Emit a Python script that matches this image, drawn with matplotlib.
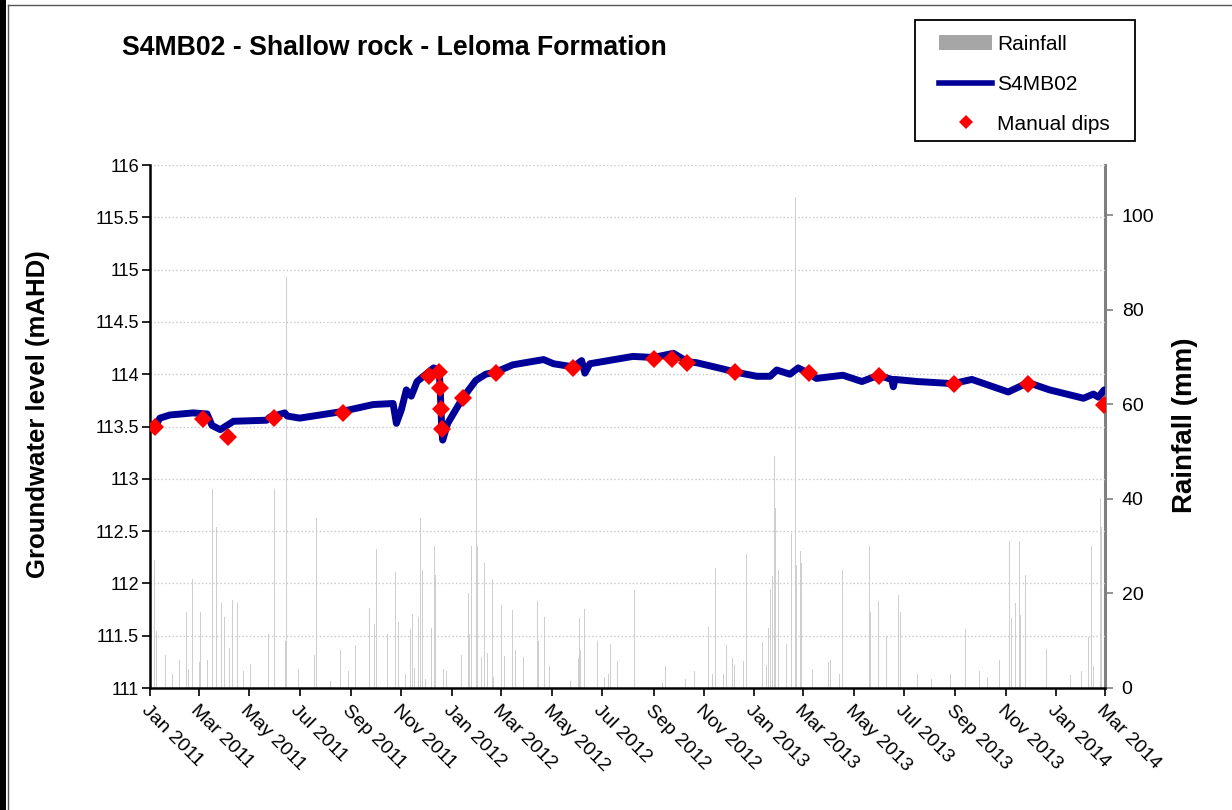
import numpy as np
import pandas as pd
import matplotlib
matplotlib.use("Agg")
import matplotlib.pyplot as plt
import matplotlib.dates as mdates
from matplotlib.patches import Patch, Rectangle
from matplotlib.lines import Line2D

plt.rcParams['font.family'] = ['Liberation Sans', 'DejaVu Sans']

# daily rainfall (mm), only the days with visible bars
rain_dates = [
    "2011-01-02", "2011-01-06", "2011-01-07", "2011-01-09", "2011-01-20", "2011-01-28",
    "2011-02-06", "2011-02-14", "2011-02-16", "2011-02-21", "2011-03-02", "2011-03-03",
    "2011-03-11", "2011-03-17", "2011-03-22", "2011-03-29", "2011-04-01", "2011-04-07",
    "2011-04-11", "2011-04-17", "2011-04-24", "2011-05-03", "2011-05-24", "2011-05-31",
    "2011-06-01", "2011-06-14", "2011-06-15", "2011-06-29", "2011-07-19", "2011-07-21",
    "2011-08-07", "2011-08-19", "2011-08-20", "2011-08-29", "2011-09-07", "2011-09-24",
    "2011-09-30", "2011-10-02", "2011-10-15", "2011-10-25", "2011-10-29", "2011-11-06",
    "2011-11-12", "2011-11-15", "2011-11-17", "2011-11-22", "2011-11-24", "2011-11-26",
    "2011-11-30", "2011-12-07", "2011-12-11", "2011-12-12", "2011-12-22", "2011-12-25",
    "2012-01-13", "2012-01-21", "2012-01-23", "2012-01-25", "2012-01-31", "2012-02-01",
    "2012-02-06", "2012-02-09", "2012-02-10", "2012-02-13", "2012-02-19", "2012-02-21",
    "2012-03-01", "2012-03-05", "2012-03-15", "2012-03-18", "2012-03-28", "2012-04-07",
    "2012-04-14", "2012-04-15", "2012-04-22", "2012-04-28", "2012-05-23", "2012-06-02",
    "2012-06-04", "2012-06-05", "2012-06-10", "2012-06-25", "2012-07-04", "2012-07-08",
    "2012-07-11", "2012-07-20", "2012-08-09", "2012-09-12", "2012-09-15", "2012-10-10",
    "2012-10-20", "2012-11-06", "2012-11-11", "2012-11-15", "2012-11-25", "2012-11-28",
    "2012-12-06", "2012-12-08", "2012-12-19", "2012-12-23", "2013-01-11", "2013-01-16",
    "2013-01-18", "2013-01-21", "2013-01-23", "2013-01-25", "2013-01-26", "2013-01-30",
    "2013-02-09", "2013-02-15", "2013-02-20", "2013-02-21", "2013-02-26", "2013-02-27",
    "2013-03-12", "2013-04-01", "2013-04-03", "2013-04-14", "2013-04-17", "2013-05-20",
    "2013-05-21", "2013-05-31", "2013-06-10", "2013-06-24", "2013-06-27", "2013-07-17",
    "2013-08-03", "2013-08-26", "2013-09-13", "2013-09-30", "2013-10-10", "2013-10-25",
    "2013-11-06", "2013-11-08", "2013-11-13", "2013-11-18", "2013-11-19", "2013-11-25",
    "2013-12-20", "2014-01-18", "2014-02-01", "2014-02-09", "2014-02-13", "2014-02-15",
    "2014-02-23", "2014-02-25",
]
rain_mm = [
    5, 20, 27, 12, 7, 3,
    6, 16, 4, 23, 5.5, 16,
    6, 42, 34, 18, 15, 8.5,
    18.6, 18, 3.6, 5, 11.4, 42,
    5, 10, 87, 4, 7, 36,
    1.5, 8, 23, 3.6, 9, 17,
    13.6, 29.5, 11.4, 24.5, 14, 3,
    12.4, 15.6, 4.3, 15, 36, 25,
    2, 12.6, 30, 24, 4, 3.6,
    7, 20, 11.4, 30, 67, 30,
    6.6, 26.5, 20, 7.5, 23, 2.4,
    17.5, 6.8, 16.5, 8, 6.6, 10,
    18.5, 10, 15, 4.6, 1.5, 6.3,
    14.7, 8, 16.7, 10, 2.4, 3,
    9.3, 5.7, 20.7, 1, 4.6, 2,
    3.5, 13, 3, 25.4, 3, 9,
    6.3, 4.8, 5.7, 28.3, 9.8, 4.8,
    12.6, 21, 23.7, 49, 38, 25,
    9.2, 32.7, 103.8, 26, 29, 26.5,
    4, 5.6, 6, 3, 25, 30,
    16, 18.5, 11, 19.7, 16, 3,
    2, 3, 12.4, 3.7, 2.4, 5.9,
    31, 14.8, 18, 31, 15.5, 24,
    8.2, 2.8, 3.7, 10.8, 30, 4.6,
    40, 34,
]

# logger groundwater level (mAHD)
gw_dates = [
    "2011-01-07", "2011-01-13", "2011-01-25", "2011-02-22", "2011-03-11", "2011-03-17",
    "2011-03-27", "2011-04-12", "2011-05-22", "2011-05-26", "2011-06-13", "2011-06-16",
    "2011-07-01", "2011-08-19", "2011-09-28", "2011-10-22", "2011-10-26", "2011-11-01",
    "2011-11-07", "2011-11-13", "2011-11-20", "2011-12-10", "2011-12-16", "2011-12-17",
    "2011-12-18", "2011-12-19", "2011-12-20", "2011-12-21", "2011-12-27", "2012-01-14",
    "2012-01-30", "2012-02-11", "2012-02-23", "2012-03-15", "2012-04-21", "2012-05-03",
    "2012-05-27", "2012-06-06", "2012-06-10", "2012-06-16", "2012-08-07", "2012-09-01",
    "2012-09-25", "2012-10-12", "2012-10-23", "2012-11-24", "2012-12-09", "2013-01-04",
    "2013-01-20", "2013-01-28", "2013-02-13", "2013-02-23", "2013-03-07", "2013-03-17",
    "2013-04-18", "2013-05-11", "2013-05-31", "2013-06-16", "2013-06-18", "2013-06-20",
    "2013-07-17", "2013-08-29", "2013-09-21", "2013-11-04", "2013-11-28", "2013-12-24",
    "2014-02-03", "2014-02-15", "2014-02-21", "2014-02-28",
]
gw_level = [
    113.50, 113.58, 113.61, 113.63, 113.62, 113.51,
    113.47, 113.55, 113.56, 113.59, 113.63, 113.60,
    113.58, 113.64, 113.71, 113.72, 113.53, 113.66,
    113.85, 113.79, 113.93, 114.06, 114.04, 114.00,
    113.85, 113.65, 113.45, 113.37, 113.53, 113.77,
    113.94, 114.00, 114.02, 114.09, 114.14, 114.10,
    114.07, 114.13, 114.01, 114.10, 114.17, 114.16,
    114.20, 114.12, 114.11, 114.05, 114.02, 113.98,
    113.98, 114.04, 114.00, 114.06, 114.01, 113.96,
    113.99, 113.93, 113.99, 113.95, 113.88, 113.95,
    113.93, 113.91, 113.95, 113.83, 113.92, 113.85,
    113.77, 113.81, 113.78, 113.85,
]

# manual dips (mAHD)
dip_dates = [
    "2011-01-07", "2011-03-06", "2011-04-05", "2011-05-31", "2011-08-23", "2011-12-04",
    "2011-12-17", "2011-12-18", "2011-12-19", "2011-12-20", "2012-01-15", "2012-02-24",
    "2012-05-27", "2012-09-01", "2012-09-23", "2012-10-12", "2012-12-09", "2013-03-08",
    "2013-06-01", "2013-08-30", "2013-11-28", "2014-02-28",
]
dip_level = [
    113.50, 113.57, 113.40, 113.58, 113.63, 113.98,
    114.02, 113.87, 113.67, 113.48, 113.77, 114.01,
    114.06, 114.15, 114.15, 114.11, 114.02, 114.01,
    113.98, 113.91, 113.91, 113.71,
]

rain_x = pd.to_datetime(rain_dates)
gw_x = pd.to_datetime(gw_dates)
dip_x = pd.to_datetime(dip_dates)

W, H = 1232, 810
fig = plt.figure(figsize=(W / 100, H / 100), dpi=100)
ax = fig.add_axes([150 / W, 1 - 688 / H, 955 / W, 523 / H])
ax2 = ax.twinx()

# rainfall behind the groundwater line
ax2.bar(rain_x, rain_mm, width=1.2, color='#cfcfcf', linewidth=0)
ax.set_zorder(ax2.get_zorder() + 1)
ax.patch.set_visible(False)

ax.plot(gw_x, gw_level, color='#000099', lw=5, solid_capstyle='round',
        solid_joinstyle='round', zorder=3)
ax.plot(dip_x, dip_level, linestyle='none', marker='D', markersize=9,
        color='#ff0000', markeredgewidth=0, zorder=4)

ax.set_xlim(pd.Timestamp('2011-01-01'), pd.Timestamp('2014-03-01'))
ax.set_ylim(111, 116)
ax.set_yticks(np.arange(111, 116.01, 0.5))
ax.set_yticklabels(['111', '111.5', '112', '112.5', '113', '113.5',
                    '114', '114.5', '115', '115.5', '116'])
ax2.set_ylim(0, 110.6)
ax2.set_yticks([0, 20, 40, 60, 80, 100])

ax.xaxis.set_major_locator(mdates.MonthLocator(bymonth=[1, 3, 5, 7, 9, 11]))
ax.xaxis.set_major_formatter(mdates.DateFormatter('%b %Y'))
for lab in ax.get_xticklabels():
    lab.set_rotation(-45)
    lab.set_ha('left')
    lab.set_va('top')
    lab.set_rotation_mode('anchor')

ax.grid(axis='y', linestyle=':', color='#c8c8c8', lw=1)

for a in (ax, ax2):
    a.spines['top'].set_visible(False)
ax.spines['right'].set_visible(False)
ax.spines['left'].set_linewidth(1.8)
ax.spines['bottom'].set_linewidth(1.8)
ax2.spines['left'].set_visible(False)
ax2.spines['bottom'].set_visible(False)
ax2.spines['right'].set_color('#808080')
ax2.spines['right'].set_linewidth(2.2)

ax.tick_params(axis='y', direction='out', length=6, width=1.2, labelsize=13, pad=2)
ax.tick_params(axis='x', direction='out', length=6, width=1.2, labelsize=14, pad=4)
ax2.tick_params(axis='y', direction='out', length=6, width=1.2, color='#808080',
                labelsize=14, pad=6)

ax.set_ylabel('Groundwater level (mAHD)', fontsize=18.5, fontweight='bold')
ax.yaxis.set_label_coords((50 - 150) / 955, (688 - 414) / 523)
ax2.set_ylabel('Rainfall (mm)', fontsize=20, fontweight='bold')
ax2.yaxis.set_label_coords((1172 - 150) / 955, (688 - 425) / 523)

fig.text(122 / W, 1 - 48 / H, 'S4MB02 - Shallow rock - Leloma Formation',
         fontsize=19.2, fontweight='bold', va='center', ha='left')

# legend: framed box drawn separately so the padding can match
fig.patches.append(Rectangle((915 / W, 1 - 141 / H), 220 / W, 121 / H,
                             transform=fig.transFigure, facecolor='white',
                             edgecolor='black', lw=1.3, zorder=5))
handles = [
    Patch(facecolor='#a6a6a6', edgecolor='none', label='Rainfall'),
    Line2D([0], [0], color='#000099', lw=4, label='S4MB02'),
    Line2D([0], [0], color='#ff0000', marker='D', markersize=7, linestyle='none',
           markeredgewidth=0, label='Manual dips'),
]
leg = fig.legend(handles=handles, loc='upper left',
                 bbox_to_anchor=(939 / W, 1 - 35 / H), borderaxespad=0,
                 fontsize=15, frameon=False, handlelength=2.55,
                 handletextpad=0.25, labelspacing=1.0, borderpad=0)
leg.set_zorder(6)

# screenshot frame edges
fig.patches.append(Rectangle((0, 0), 6 / W, 1, transform=fig.transFigure,
                             facecolor='black', edgecolor='none'))
fig.lines.append(Line2D([7.5 / W, 7.5 / W], [0, 1 - 4.5 / H],
                        transform=fig.transFigure, color='#555555', lw=1))
fig.lines.append(Line2D([7.5 / W, 1], [1 - 4.5 / H, 1 - 4.5 / H],
                        transform=fig.transFigure, color='#555555', lw=1))

fig.savefig('out.png', dpi=100, facecolor='white')
